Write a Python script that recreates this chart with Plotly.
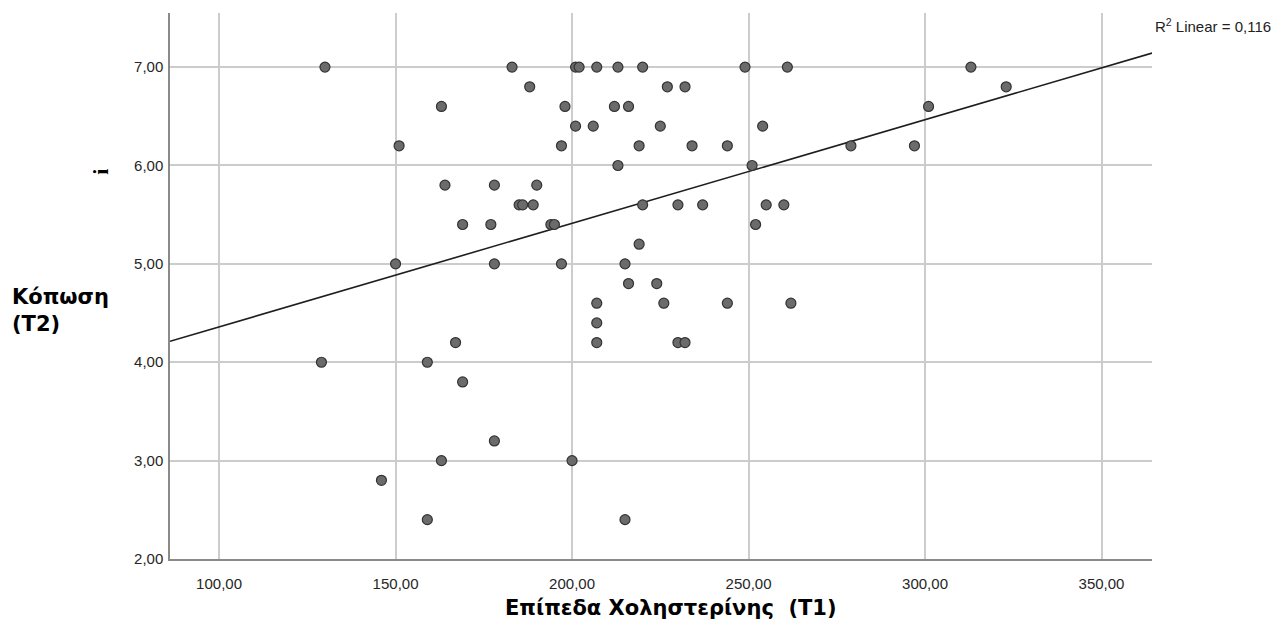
import numpy as np
import plotly.graph_objects as go

# Cholesterol level at T1 (x) and fatigue score at T2 (y), one pair per participant
cholesterol_t1 = [
    130, 183, 201, 202, 207, 213, 220, 249, 261, 313,
    188, 227, 232, 323,
    163, 198, 212, 216, 301,
    201, 206, 225, 254,
    151, 197, 219, 234, 244, 279, 297,
    213, 251,
    164, 178, 190,
    185, 186, 189, 220, 230, 237, 255, 260,
    169, 177, 194, 195, 252,
    219,
    150, 178, 197, 215,
    216, 224,
    207, 226, 244, 262,
    207,
    167, 207, 230, 232,
    129, 159,
    169,
    178,
    163, 200,
    146,
    159, 215,
]
fatigue_t2 = [
    7.0, 7.0, 7.0, 7.0, 7.0, 7.0, 7.0, 7.0, 7.0, 7.0,
    6.8, 6.8, 6.8, 6.8,
    6.6, 6.6, 6.6, 6.6, 6.6,
    6.4, 6.4, 6.4, 6.4,
    6.2, 6.2, 6.2, 6.2, 6.2, 6.2, 6.2,
    6.0, 6.0,
    5.8, 5.8, 5.8,
    5.6, 5.6, 5.6, 5.6, 5.6, 5.6, 5.6, 5.6,
    5.4, 5.4, 5.4, 5.4, 5.4,
    5.2,
    5.0, 5.0, 5.0, 5.0,
    4.8, 4.8,
    4.6, 4.6, 4.6, 4.6,
    4.4,
    4.2, 4.2, 4.2, 4.2,
    4.0, 4.0,
    3.8,
    3.2,
    3.0, 3.0,
    2.8,
    2.4, 2.4,
]

x_ticks = [100, 150, 200, 250, 300, 350]
y_ticks = [2, 3, 4, 5, 6, 7]
x_range = [86.1, 364.3]
y_range = [2.0, 7.55]
r2_label = "R<sup>2</sup> Linear = 0,116"

# Least-squares line across the full x range of the axis
slope, intercept = np.polyfit(cholesterol_t1, fatigue_t2, 1)
fit_x = np.array(x_range)
fit_y = intercept + slope * fit_x

fig = go.Figure()

fig.add_trace(go.Scatter(
    x=fit_x, y=fit_y, mode="lines",
    line=dict(color="#1e1e1e", width=1.6),
    hoverinfo="skip", showlegend=False,
))

fig.add_trace(go.Scatter(
    x=cholesterol_t1, y=fatigue_t2, mode="markers",
    marker=dict(size=10, color="#6b6b6b",
                line=dict(color="#333333", width=1.2)),
    showlegend=False,
))

axis_common = dict(
    showgrid=True, gridcolor="#cccccc", gridwidth=1.5,
    showline=True, linecolor="#8a8a8a", linewidth=1.5,
    zeroline=False, ticks="", tickformat=".2f",
    tickfont=dict(family="Liberation Sans, Arial, sans-serif", size=15, color="#262626"),
)

fig.update_xaxes(range=x_range, tickvals=x_ticks, ticklabelstandoff=10, **axis_common)
fig.update_yaxes(range=y_range, tickvals=y_ticks, ticklabelstandoff=2, **axis_common)

title_font = dict(family="DejaVu Sans, Tahoma, sans-serif", size=21, color="#000000")

fig.add_annotation(
    text="<b>Επίπεδα Χοληστερίνης  (T1)</b>",
    xref="paper", yref="paper", x=0.510, y=-0.0897,
    xanchor="center", yanchor="middle", showarrow=False,
    font=title_font,
)
fig.add_annotation(
    text="<b>Κόπωση<br>(T2)</b>",
    xref="paper", yref="paper", x=-0.163, y=0.455,
    xanchor="left", yanchor="middle", align="left", showarrow=False,
    font=title_font,
)
fig.add_annotation(
    text="<b>i</b>",
    xref="paper", yref="paper", x=-0.0703, y=0.709,
    xanchor="center", yanchor="middle", showarrow=False, textangle=-90,
    font=dict(family="Liberation Serif, serif", size=22, color="#000000"),
)
fig.add_annotation(
    text=r2_label,
    xref="paper", yref="paper", x=1.001, y=0.977,
    xanchor="left", yanchor="middle", showarrow=False,
    font=dict(family="Liberation Sans, Arial, sans-serif", size=15, color="#222222"),
)

fig.update_layout(
    width=1286, height=623,
    margin=dict(l=170, r=134, t=13, b=64),
    paper_bgcolor="white", plot_bgcolor="white",
    separators=",.",
    showlegend=False,
)

fig.write_html("out.html")
